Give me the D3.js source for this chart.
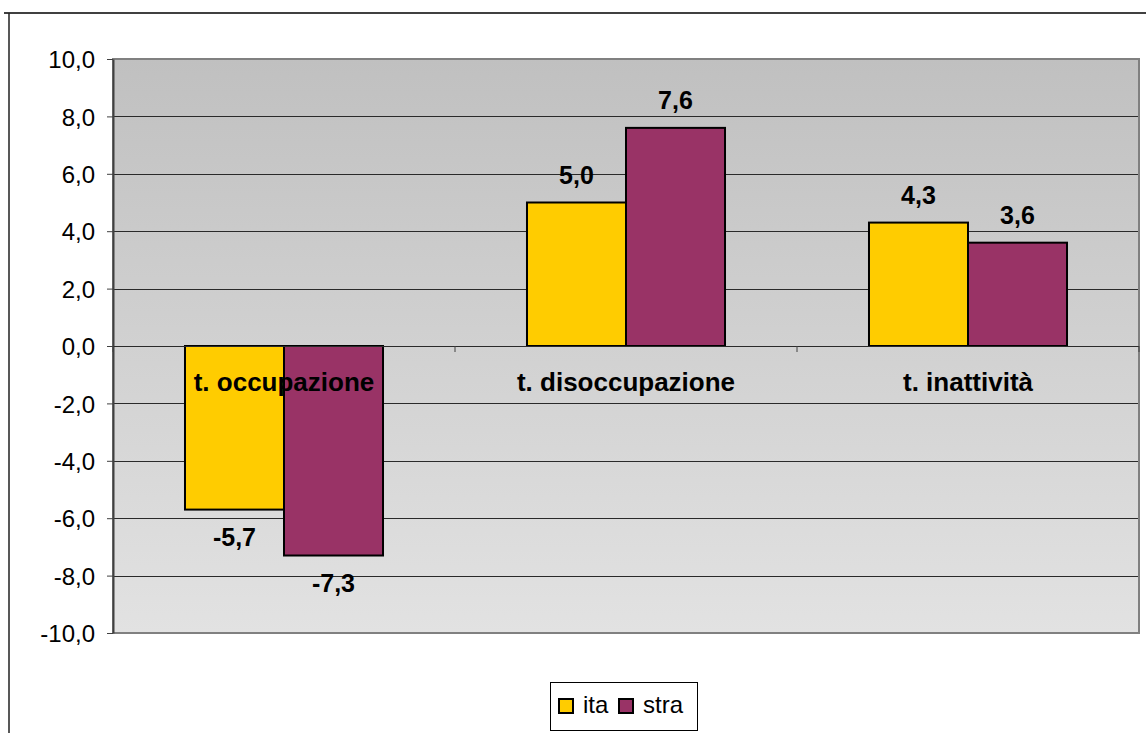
<!DOCTYPE html>
<html>
<head>
<meta charset="utf-8">
<script src="https://cdn.jsdelivr.net/npm/d3@7"></script>
<style>
  body { margin: 0; background: #fff; }
  svg { display: block; }
</style>
</head>
<body>
<div id="chart"></div>
<script>
var categories = ["t. occupazione", "t. disoccupazione", "t. inattività"];
var seriesNames = ["ita", "stra"];
var itaValues = [-5.7, 5.0, 4.3];
var straValues = [-7.3, 7.6, 3.6];
var yTicks = [-10, -8, -6, -4, -2, 0, 2, 4, 6, 8, 10];
var colors = ["#FFCC00", "#993366"];

var W = 1146, H = 733;
var margin = {top: 59, left: 113, right: 7, bottom: 100};
var width = W - margin.left - margin.right;
var height = H - margin.top - margin.bottom;
var FONT = "Arial, 'Liberation Sans', sans-serif";

var fmt = function(v) { return d3.format(".1f")(v).replace(".", ",").replace("−", "-"); };

var svg = d3.select("#chart").append("svg")
    .attr("width", W)
    .attr("height", H);

// gradient for plot area
var defs = svg.append("defs");
var grad = defs.append("linearGradient").attr("id", "bg")
    .attr("x1", 0).attr("y1", 0).attr("x2", 0).attr("y2", 1);
grad.append("stop").attr("offset", "0%").attr("stop-color", "#c0c0c0");
grad.append("stop").attr("offset", "100%").attr("stop-color", "#e2e2e2");

// outer chart frame (cut off at top/right)
svg.append("line").attr("x1", 4).attr("x2", W + 5).attr("y1", 13).attr("y2", 13)
    .style("stroke", "#404040").style("stroke-width", 2);
svg.append("line").attr("x1", 9).attr("x2", 9).attr("y1", 13).attr("y2", H + 5)
    .style("stroke", "#202020").style("stroke-width", 1.5);

var g = svg.append("g")
    .attr("transform", "translate(" + margin.left + "," + margin.top + ")");

var y = d3.scaleLinear().domain([-10, 10]).range([height, 0]);
var x0 = d3.scaleBand().domain(categories).range([0, width]).paddingInner(0.421).paddingOuter(0.2105);
var x1 = d3.scaleBand().domain(seriesNames).range([0, x0.bandwidth()]);

g.append("rect")
    .attr("x", 0).attr("y", 0)
    .attr("width", width).attr("height", height)
    .style("fill", "url(#bg)");

// gridlines
g.selectAll(".grid").data(yTicks.filter(function(d) { return d != -10 && d != 10; }))
    .enter().append("line")
    .attr("x1", 0).attr("x2", width)
    .attr("y1", function(d) { return Math.round(y(d)) + 0.5; })
    .attr("y2", function(d) { return Math.round(y(d)) + 0.5; })
    .style("stroke", "#2a2a2a").style("stroke-width", 1);

// plot border
g.append("rect")
    .attr("x", 0).attr("y", 0)
    .attr("width", width).attr("height", height)
    .style("fill", "none").style("stroke", "#808080").style("stroke-width", 2);

// y axis
var yAxis = d3.axisLeft(y).tickValues(yTicks).tickFormat(fmt).tickSize(6).tickSizeOuter(0);
var ya = g.append("g").call(yAxis);
ya.select(".domain").style("stroke", "#404040").style("stroke-width", 2);
ya.selectAll(".tick line").style("stroke", "#404040");
ya.selectAll(".tick text")
    .attr("x", -18)
    .attr("dy", "0.36em")
    .style("font-family", FONT)
    .style("font-size", "24px")
    .style("fill", "#000");

// bars
var rows = categories.map(function(c, i) {
    return {cat: c, vals: [{s: "ita", v: itaValues[i]}, {s: "stra", v: straValues[i]}]};
});

var groups = g.selectAll(".grp").data(rows).enter().append("g")
    .attr("transform", function(d) { return "translate(" + x0(d.cat) + ",0)"; });

groups.selectAll("rect").data(function(d) { return d.vals; }).enter().append("rect")
    .attr("x", function(d) { return x1(d.s); })
    .attr("width", x1.bandwidth())
    .attr("y", function(d) { return y(Math.max(0, d.v)); })
    .attr("height", function(d) { return Math.abs(y(d.v) - y(0)); })
    .style("fill", function(d, i) { return colors[i]; })
    .style("stroke", "#000").style("stroke-width", 2);

// x axis at zero
var xa = g.append("g").attr("transform", "translate(0," + y(0) + ")");
xa.append("line").attr("x1", 0).attr("x2", width).attr("y1", 0.5).attr("y2", 0.5)
    .style("stroke", "#2a2a2a");
xa.selectAll(".xt").data(d3.range(categories.length + 1)).enter().append("line")
    .attr("x1", function(d) { return Math.round(d * x0.step()); })
    .attr("x2", function(d) { return Math.round(d * x0.step()); })
    .attr("y1", 0).attr("y2", 6)
    .style("stroke", "#404040");

// category labels
g.selectAll(".cat").data(categories).enter().append("text")
    .attr("x", function(d) { return x0(d) + x0.bandwidth() / 2; })
    .attr("y", y(0) + 45)
    .attr("text-anchor", "middle")
    .style("font-family", FONT)
    .style("font-size", "26px")
    .style("font-weight", "bold")
    .text(function(d) { return d; });

// value labels
groups.selectAll(".lbl").data(function(d) { return d.vals; }).enter().append("text")
    .attr("x", function(d) { return x1(d.s) + x1.bandwidth() / 2; })
    .attr("y", function(d) { return d.v >= 0 ? y(d.v) - 19 : y(d.v) + 36; })
    .attr("text-anchor", "middle")
    .style("font-family", FONT)
    .style("font-size", "25px")
    .style("font-weight", "bold")
    .text(function(d) { return fmt(d.v); });

// legend
var leg = svg.append("g").attr("transform", "translate(550,682)");
leg.append("rect").attr("x", 0.5).attr("y", 0.5).attr("width", 147).attr("height", 48)
    .style("fill", "#fff").style("stroke", "#000").style("stroke-width", 1);
var li = leg.selectAll(".li").data(seriesNames).enter().append("g")
    .attr("transform", function(d, i) { return "translate(" + (9 + i * 60) + ",0)"; });
li.append("rect").attr("x", 0).attr("y", 17).attr("width", 14).attr("height", 14)
    .style("fill", function(d, i) { return colors[i]; })
    .style("stroke", "#000").style("stroke-width", 2);
li.append("text").attr("x", 24).attr("y", 31)
    .style("font-family", FONT)
    .style("font-size", "24px")
    .text(function(d) { return d; });
</script>
</body>
</html>
